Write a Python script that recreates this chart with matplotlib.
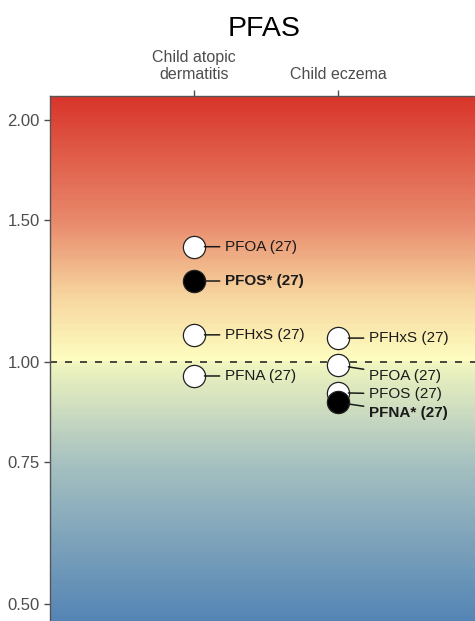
import matplotlib
matplotlib.use("Agg")
import matplotlib.pyplot as plt
import numpy as np
from matplotlib.colors import LinearSegmentedColormap

plt.rcParams['font.family'] = ['Liberation Sans', 'DejaVu Sans']

outcomes = ["Child atopic\ndermatitis", "Child eczema"]
# one entry per estimate
outcome_idx = [0, 0, 0, 0, 1, 1, 1, 1]
chemical = ["PFOA", "PFOS*", "PFHxS", "PFNA", "PFHxS", "PFOA", "PFOS", "PFNA*"]
n_studies = [27, 27, 27, 27, 27, 27, 27, 27]
estimate = [1.39, 1.26, 1.08, 0.96, 1.07, 0.99, 0.915, 0.89]
significant = [False, True, False, False, False, False, False, True]
yticks = [0.50, 0.75, 1.00, 1.50, 2.00]

# label nudges (points) so the eczema labels don't overlap
label_dy = [0, 0, 0, 0, 0, -7.5, -1, -7.5]

fig = plt.figure(figsize=(4.75, 6.21), dpi=100)
ax = fig.add_axes([50/475, 0, 432/475, 1 - 96/621])

ylo, yhi = 0.476, 2.14
ax.set_yscale('log')
ax.set_ylim(ylo, yhi)
ax.set_xlim(0, 3)

# gradient background (in log space)
cmap = LinearSegmentedColormap.from_list("grad", [
    (0.0, "#5585b5"), (0.30, "#a6c1c0"), (0.49, "#f0f5bf"), (0.494, "#fefec0"),
    (0.62, "#f6d49e"), (0.76, "#e8896b"), (1.0, "#d8342a")])
yedges = np.geomspace(ylo, yhi, 300)
frac = (np.log(yedges[:-1]) - np.log(ylo)) / (np.log(yhi) - np.log(ylo))
ax.pcolormesh([0, 3], yedges, frac.reshape(-1, 1), cmap=cmap, vmin=0, vmax=1,
              shading='flat', zorder=0, rasterized=True)

ax.axhline(1.0, color='#2a2a2a', lw=1.2, ls=(0, (4.2, 4.8)), zorder=1)

for i in range(len(estimate)):
    x = outcome_idx[i] + 1
    y = estimate[i]
    fc = 'black' if significant[i] else 'white'
    ax.plot(x, y, 'o', ms=16, mfc=fc, mec='#222222', mew=0.9, zorder=3 + i)
    ax.annotate("%s (%d)" % (chemical[i], n_studies[i]), xy=(x, y),
                xytext=(22, label_dy[i]), textcoords='offset points',
                ha='left', va='center', fontsize=11, color='#1a1a1a',
                fontweight='bold' if significant[i] else 'normal',
                arrowprops=dict(arrowstyle='-', color='#1a1a1a', lw=1.1,
                                shrinkA=1.5, shrinkB=7.5),
                zorder=20)

ax.set_yticks(yticks)
ax.set_yticklabels(["%.2f" % v for v in yticks])
ax.yaxis.set_minor_locator(matplotlib.ticker.NullLocator())
ax.tick_params(axis='y', labelsize=12, colors='#4d4d4d', length=4, width=1)

ax.xaxis.tick_top()
ax.set_xticks([1, 2])
ax.set_xticklabels(outcomes)
ax.tick_params(axis='x', labelsize=11.5, colors='#4d4d4d', length=4, width=1, pad=6)
for t in ax.get_xticklabels():
    t.set_linespacing(1.15)

for s in ['left', 'top']:
    ax.spines[s].set_color('#555555')
    ax.spines[s].set_linewidth(1)
ax.spines['right'].set_visible(False)
ax.spines['bottom'].set_visible(False)

fig.text(264/475, 1 - 29/621, "PFAS", ha='center', va='center', fontsize=20.5)

fig.savefig("out.png", dpi=100)
